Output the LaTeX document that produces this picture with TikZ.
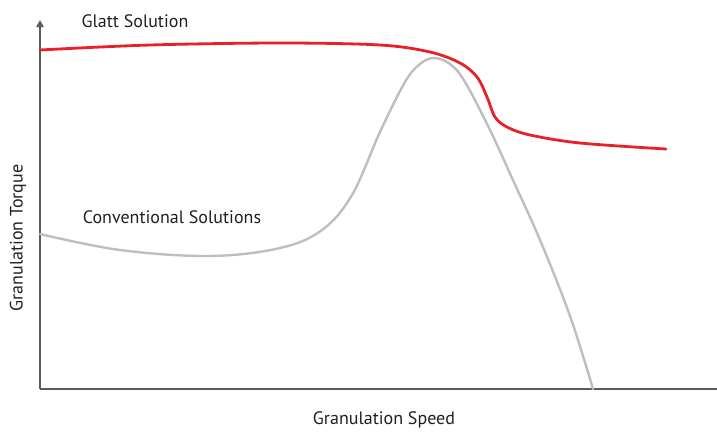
\documentclass[tikz,border=0pt]{standalone}
\usepackage{fontspec}
\setmainfont{PT Sans}
\usetikzlibrary{arrows.meta}
\definecolor{axisgray}{HTML}{5A5A5A}
\definecolor{glattred}{HTML}{E8202A}
\definecolor{convgray}{HTML}{BEBEBE}
\definecolor{txt}{HTML}{231F20}
\begin{document}
\begin{tikzpicture}[x=1bp,y=-1bp,
  axisline/.style={draw=axisgray,line width=2bp},
  lbl/.style={text=txt,font=\fontsize{18bp}{21bp}\selectfont,inner sep=0pt},
  redcurve/.style={draw=glattred,line width=2.8bp,line cap=round,line join=round},
  graycurve/.style={draw=convgray,line width=2.4bp,line cap=round,line join=round}]
\useasboundingbox (0,0) rectangle (717,431);
\coordinate (origin) at (40,389);
\coordinate (ytop) at (40,20);
\coordinate (xend) at (717,389);
\draw[axisline,-{Triangle[length=7bp,width=7bp]}] (origin) -- (ytop);
\draw[axisline] (origin) -- (xend);
\node[lbl] (glatt) at (135,21) {Glatt Solution};
\node[lbl] (conv) at (172,217) {Conventional Solutions};
\node[lbl,rotate=90] (ylab) at (18,238) {Granulation Torque};
\node[lbl] (xlab) at (384,420) {Granulation Speed};
\draw[graycurve] plot[smooth,tension=0.6] coordinates {(40,234) (120,250) (210,256) (280,248) (322,230) (352,195) (380,132) (405,82) (420,64) (434,58) (450,64) (465,82) (490,130) (512,178) (540,240) (570,316) (593,389)};
\draw[redcurve] plot[smooth,tension=0.55] coordinates {(40,50) (150,45) (280,43) (380,45) (430,52) (460,63) (477,77) (487,97) (495,117) (507,127) (530,135) (580,143) (666,149)};
\end{tikzpicture}
\end{document}
